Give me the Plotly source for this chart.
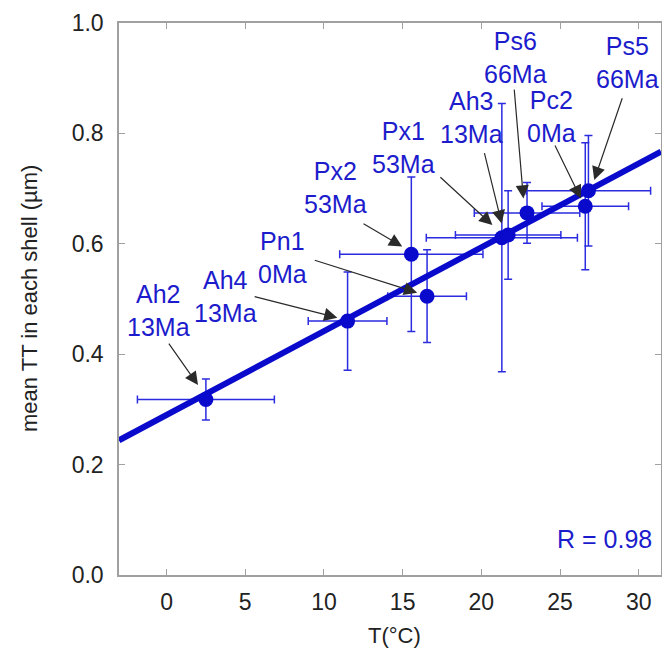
import plotly.graph_objects as go

# ---- data ----
names = ["Ah2", "Ah4", "Pn1", "Px2", "Px1", "Ah3", "Ps6", "Pc2", "Ps5"]
ages = ["13Ma", "13Ma", "0Ma", "53Ma", "53Ma", "13Ma", "66Ma", "0Ma", "66Ma"]
temp_c = [2.5, 11.5, 16.55, 15.55, 21.3, 21.7, 22.9, 26.6, 26.8]
temp_err = [4.35, 2.5, 2.5, 4.55, 4.8, 3.35, 3.35, 2.75, 3.95]
mean_tt = [0.318, 0.46, 0.505, 0.581, 0.611, 0.616, 0.656, 0.668, 0.696]
mean_tt_err = [0.037, 0.089, 0.084, 0.14, 0.243, 0.08, 0.055, 0.115, 0.1]

fit_slope = 0.01518
fit_intercept = 0.290
fit_t = [-3.02, 31.41]
r_text = "R = 0.98"

x_ticks = [0, 5, 10, 15, 20, 25, 30]
y_ticks = [0.0, 0.2, 0.4, 0.6, 0.8, 1.0]

# ---- label / arrow layout (data coordinates) ----
label_pos = {
    "Ah2": (-0.52, 0.480),
    "Ah4": (3.72, 0.505),
    "Pn1": (7.34, 0.575),
    "Px2": (10.72, 0.702),
    "Px1": (15.05, 0.774),
    "Ah3": (19.38, 0.828),
    "Ps6": (22.18, 0.938),
    "Pc2": (24.48, 0.8315),
    "Ps5": (29.30, 0.929),
}
arrow_pos = {
    "Ah2": ((0.08, 0.422), (2.0, 0.344)),
    "Ah4": ((5.5, 0.505), (10.85, 0.466)),
    "Pn1": ((9.32, 0.571), (15.92, 0.5115)),
    "Px2": ((12.42, 0.638), (14.97, 0.595)),
    "Px1": ((17.3, 0.723), (20.7, 0.634)),
    "Ah3": ((20.17, 0.767), (21.29, 0.637)),
    "Ps6": ((22.08, 0.882), (22.67, 0.682)),
    "Pc2": ((24.63, 0.781), (26.32, 0.682)),
    "Ps5": ((28.98, 0.8665), (27.17, 0.7156)),
}

BLUE = "#0a0acc"
TEXT_BLUE = "#1c1ccc"
ERR_BLUE = "#2b2be0"
FONT = "Liberation Sans, Arial, sans-serif"

fig = go.Figure()

fig.add_trace(go.Scatter(
    x=temp_c, y=mean_tt, mode="markers",
    marker=dict(color=BLUE, size=15),
    error_x=dict(type="data", array=temp_err, color=ERR_BLUE, thickness=1.5, width=4),
    error_y=dict(type="data", array=mean_tt_err, color=ERR_BLUE, thickness=1.5, width=4),
    showlegend=False, hoverinfo="skip",
))

fit_v = [fit_intercept + fit_slope * t for t in fit_t]
fig.add_trace(go.Scatter(
    x=fit_t, y=fit_v, mode="lines",
    line=dict(color=BLUE, width=6),
    showlegend=False, hoverinfo="skip",
))

annotations = []
for n, a in zip(names, ages):
    lx, ly = label_pos[n]
    annotations.append(dict(
        x=lx, y=ly, xref="x", yref="y", text=f"{n}<br>{a}", showarrow=False,
        font=dict(family=FONT, size=25, color=TEXT_BLUE),
        xanchor="center", yanchor="middle", align="center",
    ))
    (tx, ty), (hx, hy) = arrow_pos[n]
    annotations.append(dict(
        x=hx, y=hy, ax=tx, ay=ty, xref="x", yref="y", axref="x", ayref="y",
        text="", showarrow=True, arrowhead=2, arrowsize=2.2, arrowwidth=1.2,
        arrowcolor="#2a2a2a", standoff=0, startstandoff=0,
    ))

annotations.append(dict(
    x=30.98, y=0.065, xref="x", yref="y", text=r_text, showarrow=False,
    font=dict(family=FONT, size=25, color=TEXT_BLUE),
    xanchor="right", yanchor="middle",
))

# axis titles as free text
annotations.append(dict(
    x=-0.166, y=0.5, xref="paper", yref="paper", text="mean TT in each shell (µm)",
    showarrow=False, textangle=-90, xanchor="center", yanchor="middle",
    font=dict(family=FONT, size=22, color="#222222"),
))
annotations.append(dict(
    x=0.508, y=-0.083, xref="paper", yref="paper", text="T(°C)",
    showarrow=False, xanchor="center", yanchor="top",
    font=dict(family=FONT, size=22, color="#222222"),
))

axis_common = dict(
    showgrid=False, zeroline=False, showline=True, linecolor="#a0a0a0", linewidth=1.5,
    mirror="ticks", ticks="inside", ticklen=6, tickcolor="#a0a0a0", tickwidth=1,
    tickfont=dict(family=FONT, size=23, color="#222222"), automargin=False,
)

# the page shows the figure offset by the 8px body margin; the plot area is
# placed at x 119-661, y 23-575 of the window
fig.update_layout(
    width=654, height=642,
    margin=dict(l=111, r=1, t=15, b=75),
    paper_bgcolor="white", plot_bgcolor="white",
    xaxis=dict(range=[-3.02, 31.41], tickvals=x_ticks, ticktext=[str(v) for v in x_ticks],
               ticklabelstandoff=6, **axis_common),
    yaxis=dict(range=[0, 1.0], tickvals=y_ticks, ticktext=[f"{v:.1f}" for v in y_ticks],
               ticklabelstandoff=9, **axis_common),
    annotations=annotations,
)

fig.write_html("out.html")
